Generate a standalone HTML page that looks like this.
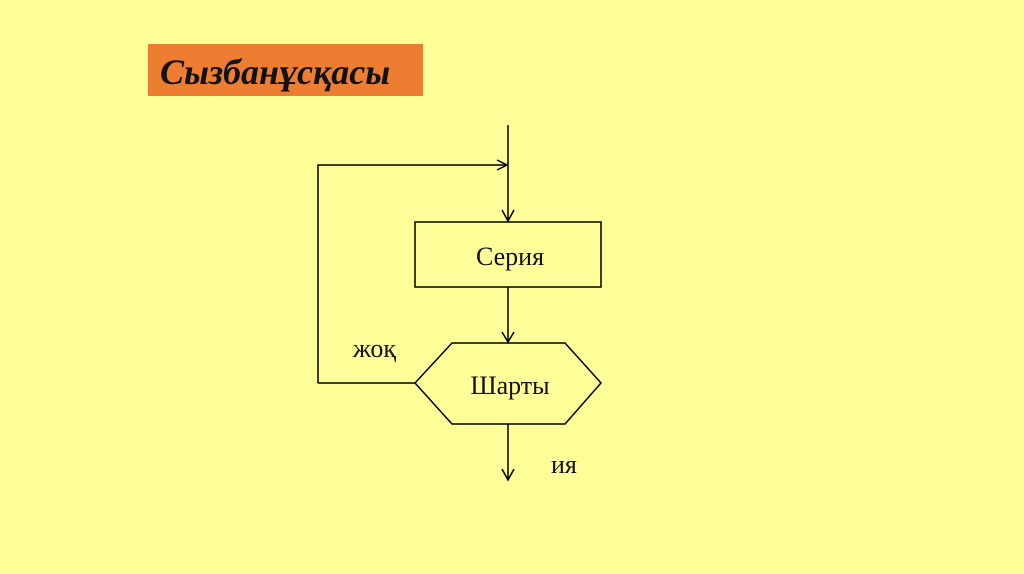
<!DOCTYPE html>
<html><head><meta charset="utf-8"><style>
html,body{margin:0;padding:0;background:#ffff99;}
body{width:1024px;height:574px;overflow:hidden;position:relative;}
</style></head><body>
<svg width="1024" height="574" xmlns="http://www.w3.org/2000/svg" style="position:absolute;left:0;top:0">
<rect x="0" y="0" width="1024" height="574" fill="#ffff99"/>
<rect x="148" y="44" width="275" height="52" fill="#ed7d31"/>
<text x="160" y="84" font-family="Liberation Serif, serif" font-style="italic" font-weight="bold" font-size="36" fill="#111">Сызбанұсқасы</text>
<g stroke="#000" stroke-width="1.5" fill="none">
<line x1="508" y1="125" x2="508" y2="221"/>
<polyline points="502,210 508,221 514,210"/>
<polyline points="318,383 318,165 507,165"/>
<polyline points="497,160 507,165 497,170"/>
<rect x="415" y="222" width="186" height="65"/>
<line x1="508" y1="287" x2="508" y2="342"/>
<polyline points="502,332 508,342 514,332"/>
<polygon points="415,383 452,343 565,343 601,383 565,424 452,424"/>
<line x1="318" y1="383" x2="415" y2="383"/>
<line x1="508" y1="424" x2="508" y2="480"/>
<polyline points="502,469 508,480 514,469"/>
</g>
<g font-family="Liberation Serif, serif" font-size="26" fill="#111">
<text x="510" y="265" text-anchor="middle">Серия</text>
<text x="510" y="394" text-anchor="middle">Шарты</text>
<text x="353" y="357">жоқ</text>
<text x="551" y="473">ия</text>
</g>
</svg>
</body></html>
